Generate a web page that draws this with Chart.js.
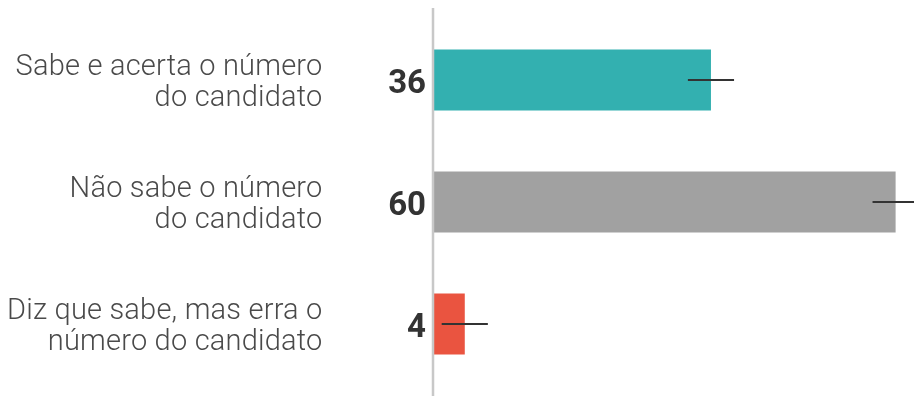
<!DOCTYPE html>
<html>
<head>
<meta charset="utf-8">
<script src="https://cdn.jsdelivr.net/npm/chart.js@4/dist/chart.umd.min.js"></script>
<style>
  html, body { margin: 0; padding: 0; background: #ffffff; }
  #wrap { width: 914px; height: 396px; position: relative; }
</style>
</head>
<body>
<div id="wrap"><canvas id="c" width="914" height="396"></canvas></div>
<script>
const categories = [
  ["Sabe e acerta o número", "do candidato"],
  ["Não sabe o número", "do candidato"],
  ["Diz que sabe, mas erra o", "número do candidato"]
];
const values = [36, 60, 4];
const errorMargins = [3, 3, 3];
const valueLabels = ["36", "60", "4"];
const barColors = ["#33b0b0", "#a1a1a1", "#ea5440"];

const overlay = {
  id: 'overlay',
  afterDatasetsDraw(chart) {
    const ctx = chart.ctx;
    const x = chart.scales.x, y = chart.scales.y;
    ctx.save();
    // vertical axis line
    ctx.strokeStyle = '#c8c8c8';
    ctx.lineWidth = 2.5;
    ctx.beginPath();
    ctx.moveTo(x.left - 1, 8);
    ctx.lineTo(x.left - 1, 396);
    ctx.stroke();
    // error bars
    ctx.strokeStyle = '#333333';
    ctx.lineWidth = 2;
    values.forEach((v, i) => {
      const yc = y.getPixelForValue(i);
      ctx.beginPath();
      ctx.moveTo(x.getPixelForValue(v - errorMargins[i]), yc);
      ctx.lineTo(x.getPixelForValue(v + errorMargins[i]), yc);
      ctx.stroke();
    });
    // value labels
    ctx.fillStyle = '#333333';
    ctx.font = 'bold 33px Roboto';
    ctx.textAlign = 'right';
    ctx.textBaseline = 'alphabetic';
    valueLabels.forEach((t, i) => {
      ctx.fillText(t, x.left - 8, y.getPixelForValue(i) + 12.5);
    });
    // category labels
    ctx.fillStyle = '#4a4a4a';
    ctx.font = '300 29px Roboto';
    if ('letterSpacing' in ctx) ctx.letterSpacing = '0.2px';
    categories.forEach((lines, i) => {
      const yc = y.getPixelForValue(i);
      lines.forEach((ln, j) => {
        ctx.fillText(ln, 322.5, yc - 5 + j * 31);
      });
    });
    ctx.restore();
  }
};

new Chart(document.getElementById('c'), {
  type: 'bar',
  data: {
    labels: categories.map(c => c.join(' ')),
    datasets: [{
      data: values,
      backgroundColor: barColors,
      borderWidth: 0,
      categoryPercentage: 1.0,
      barPercentage: 0.5
    }]
  },
  options: {
    indexAxis: 'y',
    responsive: false,
    animation: false,
    layout: { padding: { top: 19, bottom: 11, right: 3, left: 434 } },
    plugins: { legend: { display: false }, tooltip: { enabled: false } },
    scales: {
      x: { min: 0, max: 62, display: false, grid: { display: false } },
      y: { display: false, grid: { display: false } }
    }
  },
  plugins: [overlay]
});
</script>
</body>
</html>
